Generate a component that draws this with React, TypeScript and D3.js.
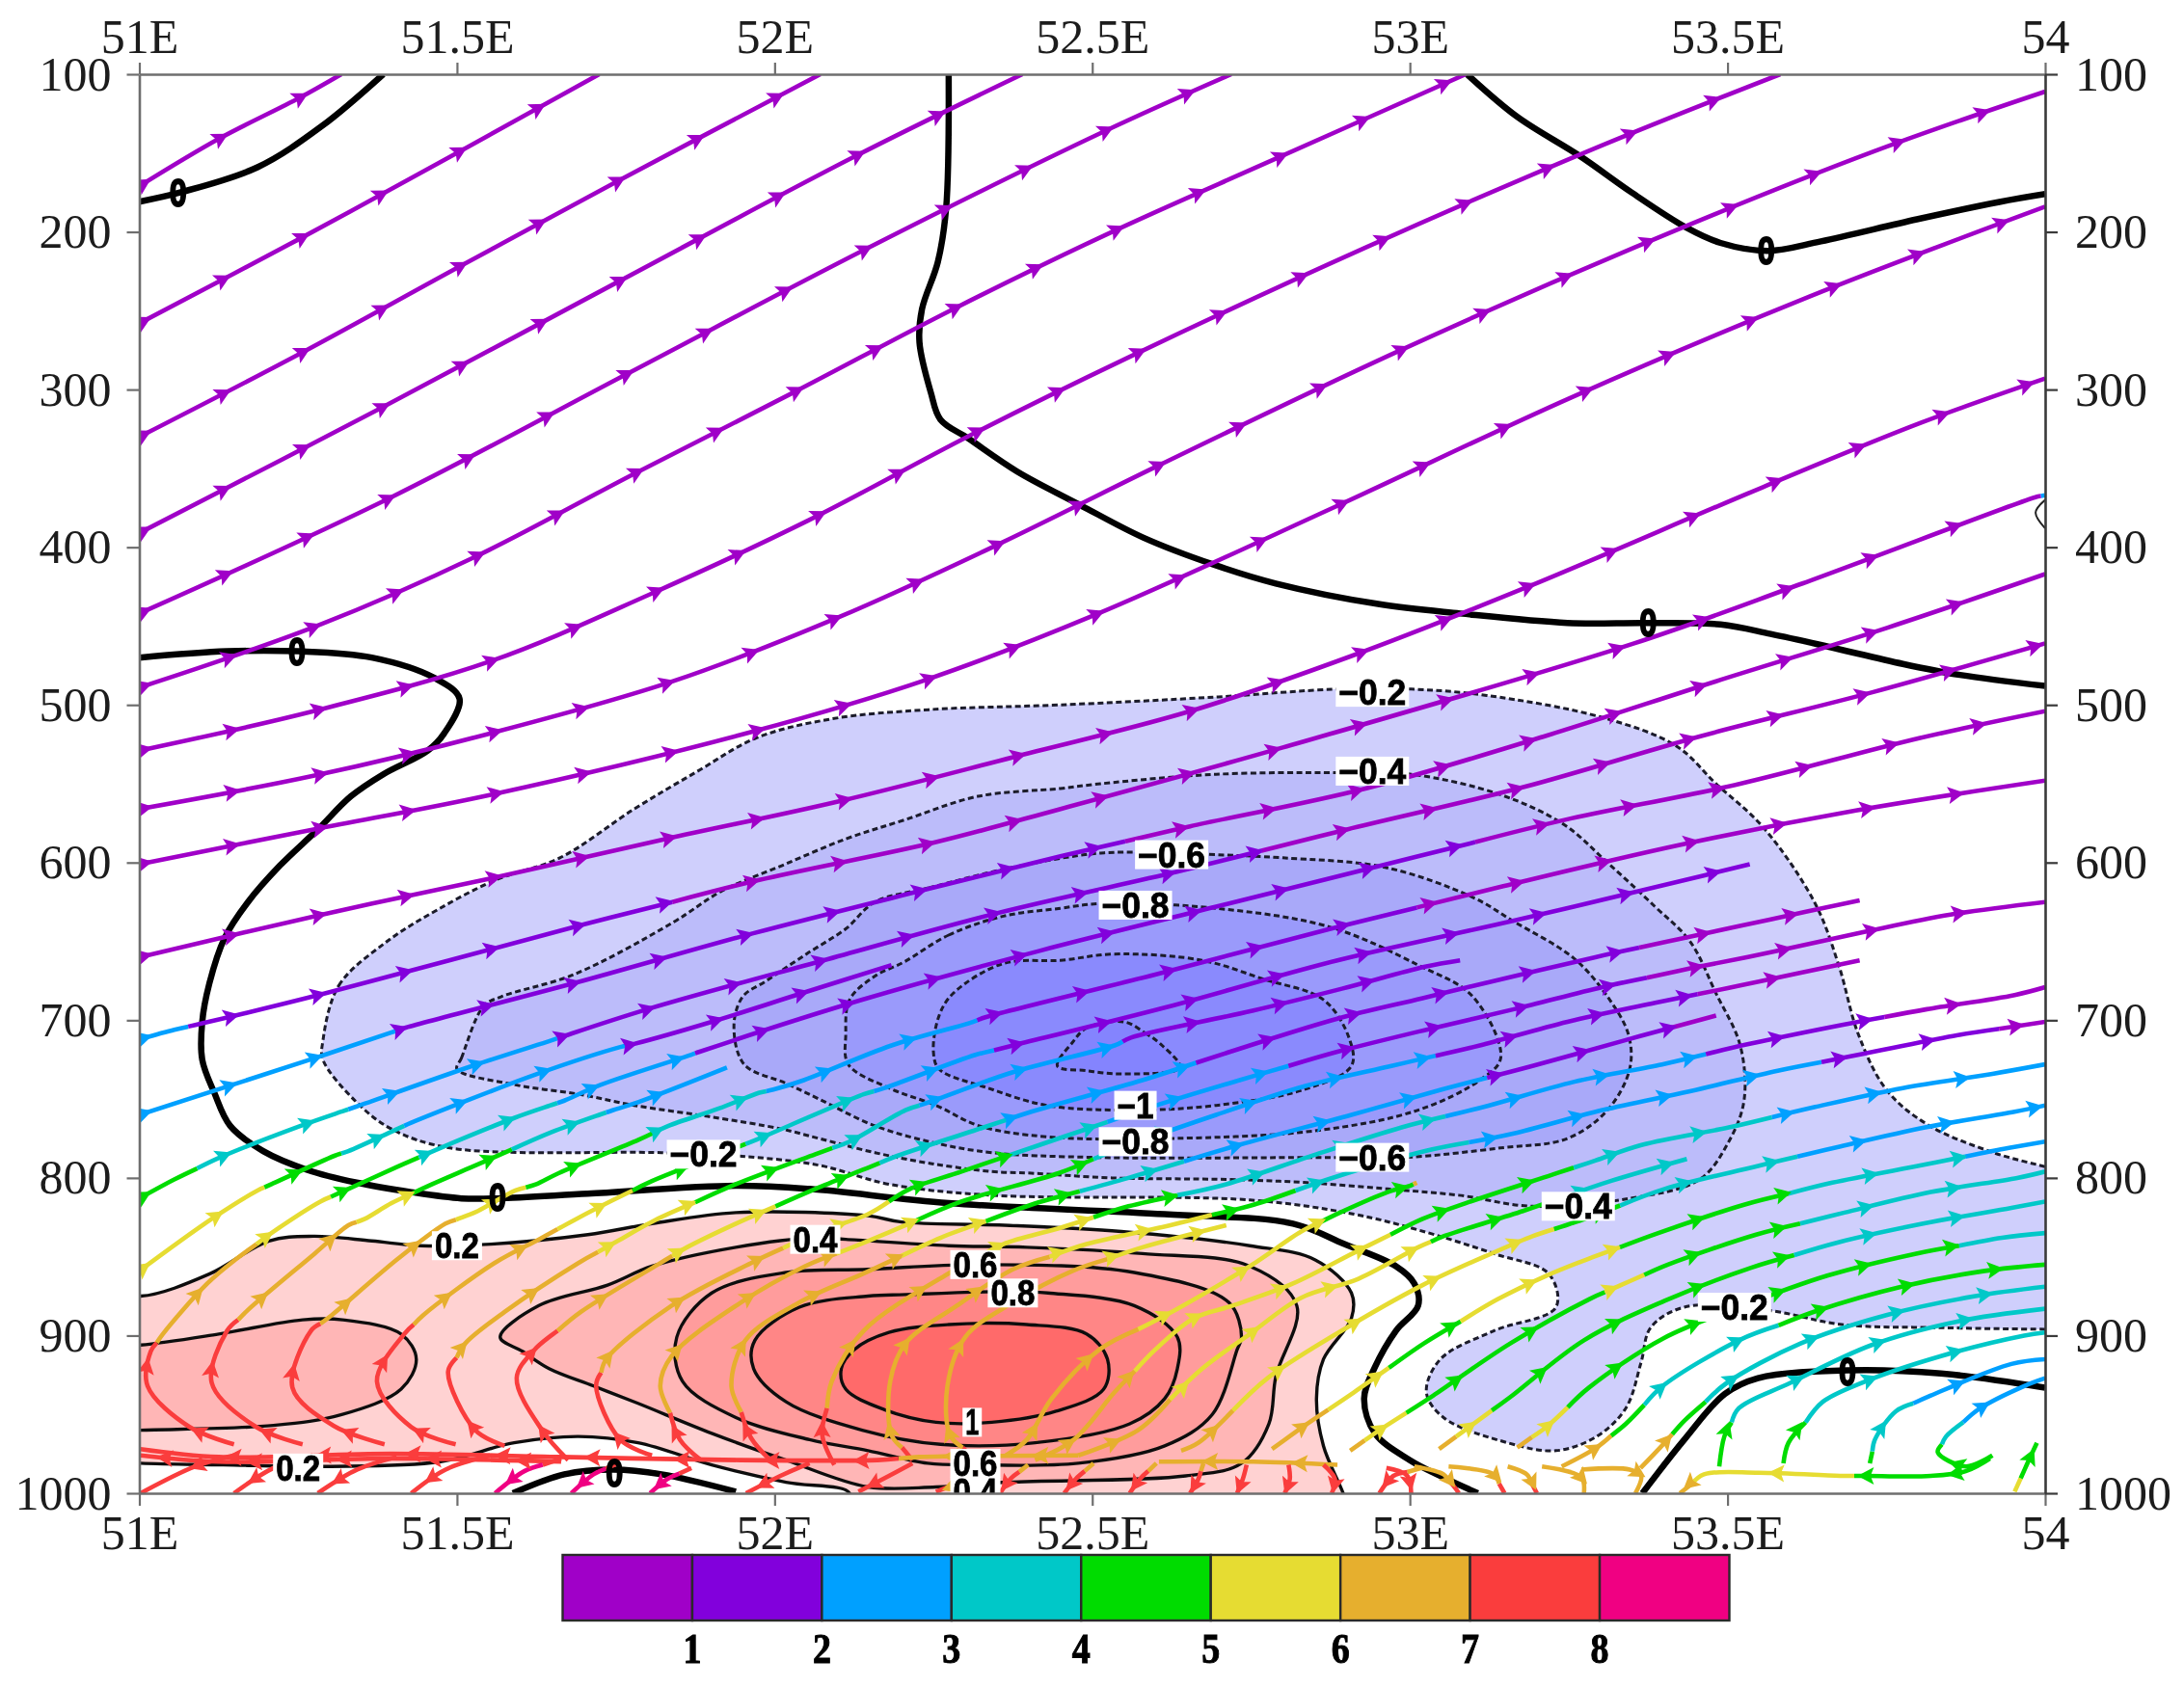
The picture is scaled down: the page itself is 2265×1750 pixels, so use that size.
import React, {useRef, useEffect} from 'react';
import * as d3 from 'd3';

const width = 2265;
const height = 1750;
const plot = {left: 144.5, right: 2121, top: 77, bottom: 1549};

const lonTicks = [51, 51.5, 52, 52.5, 53, 53.5, 54];
const lonLabels = ['51E', '51.5E', '52E', '52.5E', '53E', '53.5E', '54'];
const pressureTicks = [100, 200, 300, 400, 500, 600, 700, 800, 900, 1000];

// wind speed classes of the colour bar
const speedBreaks = [1, 2, 3, 4, 5, 6, 7, 8];
const speedColors = ['#a000c8', '#8200dc', '#00a0ff', '#00c8c8', '#00dc00', '#e6dc32', '#e6af2d', '#fa3c3c', '#f00082'];

// contours, [lon, hPa]
const neg02 = [[51.289,713],[51.314,678],[51.39,650],[51.469,630],[51.561,611],[51.662,597],[51.779,566],[51.879,542],[51.971,521],[52.088,509],[52.243,503],[52.45,500],[52.695,495],[52.886,490],[53.002,490],[53.121,494],[53.303,508],[53.419,526],[53.482,550],[53.557,578],[53.638,626],[53.675,665],[53.706,709],[53.75,744],[53.814,766],[53.919,784],[54.01,794],[54.05,799],[54.05,896],[54,896],[53.836,895],[53.68,893],[53.564,884],[53.432,882],[53.379,895],[53.364,917],[53.34,946],[53.294,964],[53.23,973],[53.154,968],[53.053,952],[53.026,936],[53.048,915],[53.132,897],[53.23,882],[53.219,861],[53.132,848],[53.013,833],[52.912,823],[52.748,814],[52.342,811],[52.18,804],[52.07,792],[51.939,786],[51.822,784],[51.489,781],[51.397,769],[51.342,752],[51.289,725]];
const neg04 = [[51.5,731],[51.507,724],[51.542,691],[51.57,685],[51.684,671],[51.84,638],[51.917,618],[52.011,602],[52.112,585],[52.204,573],[52.32,558],[52.45,553],[52.513,550],[52.695,544],[52.886,543],[53.002,544],[53.143,557],[53.243,576],[53.311,600],[53.386,628],[53.441,650],[53.482,683],[53.52,716],[53.526,751],[53.502,777],[53.456,801],[53.346,813],[53.193,818],[53.077,811],[52.965,807],[52.838,803],[52.715,801],[52.531,800],[52.404,797],[52.342,796],[52.248,791],[52.158,784],[52.07,775],[52.011,769],[51.895,761],[51.779,754],[51.693,747],[51.592,741]];
const neg06 = [[52.158,625],[52.243,616],[52.375,603],[52.513,594],[52.625,594],[52.695,595],[52.8,597],[52.961,603],[53.099,622],[53.162,637],[53.259,661],[53.311,685],[53.344,709],[53.346,731],[53.311,757],[53.248,775],[53.143,781],[52.993,787],[52.877,787],[52.504,787],[52.342,784],[52.254,778],[52.158,767],[52.07,750],[52.018,740],[51.952,728],[51.936,703],[51.95,685],[51.987,675],[52.05,658],[52.112,642]];
const neg08 = [[52.204,663],[52.274,646],[52.36,634],[52.45,629],[52.513,626],[52.695,629],[52.875,641],[53.013,665],[53.099,685],[53.143,724],[53.11,738],[53.013,757],[52.853,770],[52.621,775],[52.43,774],[52.322,767],[52.254,754],[52.18,743],[52.116,728],[52.112,709],[52.118,687],[52.158,672]];
const neg10 = [[52.45,662],[52.535,658],[52.673,662],[52.77,674],[52.864,687],[52.904,711],[52.908,729],[52.833,744],[52.695,754],[52.568,757],[52.428,754],[52.336,743],[52.259,731],[52.25,720],[52.259,697],[52.281,683],[52.36,664]];
const neg12 = [[52.55,701],[52.583,708],[52.61,716],[52.638,730],[52.544,734],[52.491,732],[52.445,729],[52.469,714],[52.491,705]];
const pos02 = [[50.934,870],[51.002,875],[51.11,861],[51.204,840],[51.274,837],[51.366,840],[51.443,843],[51.553,842],[51.706,836],[51.807,829],[51.939,822],[52.147,824],[52.2,828],[52.362,830],[52.546,834],[52.748,843],[52.851,852],[52.908,873],[52.908,889],[52.864,915],[52.853,940],[52.864,970],[52.895,1000],[52.908,1016],[52.096,1016],[52.118,1000],[52.018,993],[51.901,982],[51.785,968],[51.691,964],[51.59,968],[51.474,980],[51.296,983],[51.132,982],[51.002,981],[50.934,979]];
const pos04a = [[50.934,907],[51.002,906],[51.125,899],[51.257,890],[51.32,890],[51.412,899],[51.436,915],[51.412,934],[51.32,950],[51.211,957],[51.002,960],[50.934,961]];
const pos04b = [[51.568,901],[51.629,881],[51.737,868],[51.807,856],[51.939,844],[52.064,838],[52.112,839],[52.274,843],[52.397,844],[52.579,848],[52.748,856],[52.822,881],[52.789,926],[52.778,956],[52.735,981],[52.647,989],[52.368,993],[52.254,996],[52.147,996],[52.018,979],[51.901,962],[51.785,943],[51.715,932],[51.645,921],[51.603,910]];
const pos06 = [[51.846,901],[51.901,873],[52.018,860],[52.147,858],[52.316,855],[52.566,860],[52.715,879],[52.735,901],[52.728,909],[52.689,950],[52.614,970],[52.478,981],[52.316,982],[52.241,981],[52.147,973],[52.055,966],[51.939,952],[51.855,929]];
const pos08 = [[51.967,921],[51.969,903],[52.039,882],[52.147,875],[52.206,874],[52.375,872],[52.43,873],[52.566,881],[52.634,901],[52.634,921],[52.614,940],[52.559,956],[52.41,968],[52.261,969],[52.138,960],[52.018,942]];
const pos10 = [[52.105,921],[52.125,909],[52.18,898],[52.274,893],[52.397,893],[52.491,899],[52.524,915],[52.518,934],[52.443,948],[52.342,955],[52.254,955],[52.173,947],[52.112,934]];

const negativeLevels = [neg02, neg04, neg06, neg08, neg10, neg12];
const negativeFills = ['#cfcffc', '#bcbcfa', '#a9a9f9', '#9a9afb', '#8a8afd', '#8484fe'];
const positiveLevels = [pos02, pos04a, pos04b, pos06, pos08, pos10];
const positiveFills = ['#ffd2d2', '#ffb6b6', '#ffb6b6', '#ff9c9c', '#ff8686', '#ff6a6a'];

const zero1 = [[50.998,181],[51.064,175],[51.186,159],[51.287,133],[51.384,100]];
const zero2 = [[52.274,100],[52.27,185],[52.257,219],[52.232,249],[52.228,270],[52.246,302],[52.261,319],[52.305,331],[52.382,352],[52.48,373],[52.581,394],[52.691,411],[52.789,423],[52.95,436],[53.079,442],[53.248,448],[53.373,448],[53.489,449],[53.568,455],[53.658,463],[53.776,474],[53.866,481],[54,488]];
const zero3 = [[53.09,100],[53.169,127],[53.268,152],[53.349,175],[53.434,197],[53.489,207],[53.564,212],[53.647,206],[53.798,192],[53.928,181],[54,176]];
const zero4 = [[51,470],[51.138,466],[51.25,466],[51.366,470],[51.465,483],[51.504,496],[51.48,518],[51.454,529],[51.384,544],[51.333,558],[51.281,579],[51.221,602],[51.171,625],[51.134,648],[51.11,677],[51.099,701],[51.099,725],[51.118,746],[51.143,767],[51.195,783],[51.265,795],[51.342,803],[51.428,809],[51.507,813],[51.564,813],[51.706,810],[51.939,805],[52.055,807],[52.274,816],[52.614,823],[52.816,829],[52.897,842],[52.978,856],[53.007,867],[53.013,881],[52.978,897],[52.945,920],[52.928,940],[52.945,962],[53,979],[53.053,990],[53.107,1000]];
const zero5 = [[51.588,1000],[51.669,988],[51.746,985],[51.822,988],[51.939,999]];
const zero6 = [[53.366,1000],[53.432,966],[53.496,937],[53.548,927],[53.689,922],[53.836,924],[54,933]];
const zeroLines = [zero1, zero2, zero3, zero4, zero5, zero6];
const edgeArc = [[54,370],[53.985,378],[54,388]];

// label text, lon, hPa
const zeroLabels = [[51.061,175],[51.248,466],[53.375,448],[53.561,212],[51.564,812],[51.748,987],[53.689,923]];
const levelLabels = [
    ['−0.2',52.941,492],['−0.4',52.941,542],['−0.6',52.625,595],['−0.8',52.568,627],['−1',52.568,754],
    ['−0.8',52.568,777],['−0.6',52.941,787],['−0.4',53.265,818],['−0.2',51.888,785],['−0.2',53.511,882],
    ['0.2',51.5,843],['0.4',52.064,839],['0.6',52.316,855],['0.8',52.375,873],['1',52.311,955],
    ['0.6',52.316,981],['0.4',52.316,999],['0.2',51.25,984],
];

// streamlines in flow order, [lon, hPa, speed]; speed left out means 0.5
const upperFlow = [
    [[51,171],[51.125,141],[51.252,115],[51.318,100]],
    [[51,258],[51.254,204],[51.504,149],[51.724,100]],
    [[51,330],[51.254,277],[51.504,222],[51.752,168],[52.072,100]],
    [[51,391],[51.379,312],[51.752,232],[52.127,152],[52.39,100]],
    [[51,442],[51.393,369],[51.768,290],[52.143,211],[52.515,137],[52.719,100]],
    [[51,489],[51.279,450],[51.529,406],[51.776,354],[52.029,302],[52.281,249],[52.531,200],[52.781,155],[53.088,100]],
    [[51,529],[51.274,504],[51.555,472],[51.803,430],[52.053,383],[52.303,330],[52.555,280],[52.93,210],[53.303,145],[53.583,100]],
    [[51,566],[51.274,545],[51.553,518],[51.84,485],[52.103,444],[52.353,398],[52.605,348],[52.98,276],[53.353,210],[53.73,149],[54,111]],
    [[51,601],[51.274,579],[51.553,557],[51.965,517],[52.239,484],[52.504,443],[52.879,375],[53.254,305],[53.629,241],[54,184]],
    [[51,660],[51.276,634],[51.553,610],[51.829,585],[52.103,561],[52.377,533],[52.654,504],[52.908,469],[53.18,426],[53.555,362],[53.805,321],[54,293]],
    [[51,712,2.5],[51.055,706,2.5],[51.099,702,1.5],[51.292,683,1.5],[51.702,639,1.5],[51.976,611],[52.254,587],[52.45,566],[52.8,527],[53.353,461],[53.618,423],[53.987,368],[54,367,2.5]],
    [[51,760,2.5],[51.276,724,2.5],[51.395,708,2.5],[51.417,705,1.5],[51.689,676,1.5],[51.965,645,1.5],[52.239,617,1.5],[52.45,596,1.5],[52.654,577],[52.93,553],[53.211,520],[53.482,485],[53.752,451],[54,417]],
    [[51,813,4.5],[51.055,801,4.5],[51.127,787,3.5],[51.254,767,3.5],[51.318,758,3.5],[51.34,755,2.5],[51.524,729,2.5],[51.647,713,2.5],[51.669,710,1.5],[51.8,693,1.5],[52.077,662,1.5],[52.351,632,1.5],[52.632,606,1.5],[52.901,579],[53.18,552],[53.456,520],[53.728,492],[54,461]],
    [[51,859,5.5],[51.114,826,5.5],[51.186,808,5.5],[51.208,804,4.5],[51.307,786,4.5],[51.329,783,3.5],[51.406,769,3.5],[51.428,765,2.5],[51.627,734,2.5],[51.757,717,2.5],[51.779,715,1.5],[51.901,701,1.5],[52.042,683,1.5],[52.184,665,1.5]],
];

const risingFlow = [
    [[51.149,969,7.5],[51.079,958,7.5],[51.013,932,7.5],[51.018,910,7.5],[51.037,899,6.5],[51.107,867,6.5],[51.154,851,6.5],[51.215,833,5.5],[51.285,815,5.5],[51.318,809,4.5],[51.406,793,4.5],[51.474,781,3.5],[51.59,762,3.5],[51.647,754,3.5],[51.669,751,2.5],[51.726,741,2.5],[51.868,722,2.5],[51.882,720,1.5],[52.138,687,1.5],[52.417,656,1.5],[52.695,628,1.5],[52.963,601,1.5],[53.243,573],[53.52,550],[53.792,522],[54,504]],
    [[51.257,969,7.5],[51.184,958,7.5],[51.114,930,7.5],[51.138,897,7.5],[51.173,883,6.5],[51.276,848,6.5],[51.329,830,6.5],[51.355,826,5.5],[51.397,816,5.5],[51.461,804,4.5],[51.524,793,4.5],[51.649,771,3.5],[51.724,760,3.5],[51.746,757,2.5],[51.785,752,2.5],[51.925,730,2.5]],
    [[51.386,969,7.5],[51.305,957,7.5],[51.241,933,7.5],[51.27,897,7.5],[51.3,888,6.5],[51.408,851,6.5],[51.482,829,6.5],[51.515,824,5.5],[51.533,821,5.5],[51.592,808,5.5],[51.625,804,4.5],[51.66,797,4.5],[51.785,776,4.5],[51.833,767,3.5],[51.912,756,3.5],[51.976,746,3.5],[51.998,744,2.5],[52.046,738,2.5],[52.184,716,2.5],[52.305,702,2.5],[52.333,698,1.5],[52.599,671,1.5],[52.875,642,1.5],[53.147,615],[53.423,589],[53.702,567],[54,548]],
    [[51.498,969,7.5],[51.428,958,7.5],[51.374,929,7.5],[51.417,899,7.5],[51.447,887,6.5],[51.559,854,6.5],[51.629,839,6.5],[51.688,826,5.5],[51.746,814,5.5],[51.807,802,4.5],[51.939,781,4.5],[51.97,776,3.5],[52.14,747,3.5],[52.173,743,2.5],[52.316,722,2.5],[52.375,716,1.5],[52.614,692,1.5],[52.886,662,1.5],[53.162,637,1.5],[53.434,611,1.5],[53.535,601,1.5]],
    [[51.575,970,7.5],[51.529,960,7.5],[51.486,923,7.5],[51.513,905,6.5],[51.575,885,6.5],[51.691,854,6.5],[51.753,840,5.5],[51.811,827,5.5],[51.939,804,4.5],[52.064,785,4.5],[52.118,777,3.5],[52.206,757,3.5],[52.25,751,2.5],[52.375,733,2.5],[52.535,716,2.5],[52.561,711,1.5],[52.752,694,1.5],[52.893,680,1.5],[53.024,666,1.5],[53.079,662,1.5]],
    [[51.675,979,7.5],[51.634,960,7.5],[51.594,927,7.5],[51.622,909,7.5],[51.695,885,6.5],[51.816,855,6.5],[51.862,844,5.5],[51.939,829,5.5],[52.064,807,4.5],[52.138,795,4.5],[52.193,786,3.5],[52.329,768,3.5],[52.404,758,2.5],[52.579,738,2.5],[52.748,716,1.5],[52.886,699,1.5],[53.02,686,1.5],[53.154,673,1.5],[53.292,660,1.5],[53.43,648],[53.568,636],[53.708,624]],
    [[51.807,976,7.5],[51.757,966,7.5],[51.719,932,7.5],[51.735,915,6.5],[51.838,881,6.5],[51.963,854,6.5],[52.064,835,5.5],[52.147,823,5.5],[52.213,807,4.5],[52.294,796,4.5],[52.447,775,3.5],[52.601,754,2.5],[52.732,738,2.5],[52.886,720,1.5],[53.026,706,1.5],[53.164,693,1.5],[53.303,679,1.5],[53.443,667],[53.579,656],[53.715,644],[53.851,633],[54,625]],
    [[51.884,979,7.5],[51.851,966,7.5],[51.82,932,6.5],[51.838,913,6.5],[51.947,879,6.5],[52.048,856,6.5],[52.147,840,5.5],[52.294,815,4.5],[52.447,797,4.5],[52.557,779,3.5],[52.695,760,2.5],[52.833,742,2.5],[52.971,729,2.5],[53.11,716,1.5],[53.248,701,1.5],[53.386,689,1.5],[53.52,678],[53.708,662]],
    [[51.993,979,7.5],[51.963,965,7.5],[51.932,932,6.5],[51.954,903,6.5],[52.039,879,6.5],[52.138,861,6.5],[52.261,838,5.5],[52.404,817,4.5],[52.557,800,3.5],[52.732,779,2.5],[52.908,760,2.5],[53.05,744,2.5],[53.193,729,1.5],[53.336,713,1.5],[53.482,697]],
    [[52.094,982,7.5],[52.075,963,7.5],[52.09,929,6.5],[52.14,897,6.5],[52.272,861,6.5],[52.36,842,5.5],[52.447,832,5.5],[52.557,818,4.5],[52.711,804,3.5],[52.853,785,3.5],[52.987,768,3.5],[53.125,754,2.5],[53.259,739,2.5],[53.397,728,2.5],[53.535,715,1.5],[53.68,703,1.5],[53.814,693],[53.952,684],[54,679]],
    [[52.217,979,7.5],[52.184,963,6.5],[52.182,929,6.5],[52.206,905,6.5],[52.287,881,6.5],[52.375,858,6.5],[52.491,842,5.5],[52.623,830,5.5],[52.754,817,4.5],[52.886,799,3.5],[53.024,783,3.5],[53.162,772,2.5],[53.303,757,2.5],[53.441,745,2.5],[53.579,732,2.5],[53.717,721,1.5],[53.855,710,1.5],[54,701]],
    [[52.316,979,7.5],[52.276,963,6.5],[52.272,932,6.5],[52.3,901,6.5],[52.375,879,6.5],[52.469,859,6.5],[52.579,844,5.5],[52.711,830,5.5]],
    [[52.364,976,6.5],[52.397,966,6.5],[52.436,940,6.5],[52.511,909,6.5],[52.634,883,5.5],[52.748,856,5.5],[52.829,834,5.5],[52.89,822,4.5],[52.965,809,4.5],[53,805,4.5],[53.011,803,6.5]],
    [[52.41,979,6.5],[52.471,966,6.5],[52.535,936,6.5],[52.599,909,5.5],[52.66,889,5.5],[52.721,881,5.5],[52.816,867,5.5],[52.919,846,5.5],[53.02,826,4.5],[53.088,816,4.5],[53.224,798,4.5],[53.292,789,3.5],[53.366,779,3.5],[53.502,768,3.5],[53.638,755,2.5],[53.776,743,2.5],[53.917,734,2.5],[54,728,2.5]],
    [[52.478,976,6.5],[52.572,960,6.5],[52.673,921,5.5],[52.748,899,5.5],[52.829,876,5.5],[52.919,864,5.5],[53.013,844,5.5],[53.053,837,4.5],[53.178,821,4.5],[53.316,802,3.5],[53.436,788,3.5]],
    [[52.64,973,6.5],[52.667,968,6.5],[52.776,927,5.5],[52.884,899,5.5],[53.02,868,5.5],[53.134,847,5.5],[53.193,837,5.5],[53.261,828,4.5],[53.401,807,3.5],[53.542,793,3.5],[53.678,780,2.5],[53.811,768,2.5],[53.952,758,2.5],[54,754,2.5]],
];

const easternFlow = [
    [[52.783,972,6.5],[52.831,958,6.5],[52.912,936,5.5],[53.022,905,4.5],[53.138,877,5.5],[53.215,862,5.5],[53.27,853,5.5],[53.391,835,4.5],[53.526,817,4.5],[53.665,803,3.5],[53.805,792,3.5],[53.943,781,2.5],[54,777,2.5]],
    [[52.906,973,6.5],[52.952,960,5.5],[53.037,938,4.5],[53.158,905,4.5],[53.282,877,4.5],[53.332,868,5.5],[53.406,855,4.5],[53.545,836,4.5],[53.684,822,3.5],[53.82,809,3.5],[53.956,800,3.5],[54,796,3.5]],
    [[53.046,972,6.5],[53.1,956,5.5],[53.158,939,4.5],[53.274,903,4.5],[53.401,878,4.5],[53.537,857,4.5],[53.673,841,3.5],[53.808,829,3.5],[53.947,819,3.5],[54,815,3.5]],
    [[53.169,971,6.5],[53.215,958,5.5],[53.282,933,4.5],[53.398,902,4.5],[53.518,882,4.5],[53.657,862,4.5],[53.797,848,4.5],[53.932,838,3.5],[54,835,3.5]],
    [[53.239,983,6.5],[53.294,971,6.5],[53.34,956,4.5],[53.398,932,3.5],[53.518,903,3.5],[53.643,884,4.5],[53.774,869,4.5],[53.905,859,4.5],[54,855,4.5]],
    [[53.363,984,6.5],[53.394,971,6.5],[53.432,954,4.5],[53.499,930,3.5],[53.615,905,3.5],[53.75,887,3.5],[53.89,875,3.5],[54,869,3.5]],
    [[53.487,983,4.5],[53.495,964,4.5],[53.518,946,3.5],[53.599,930,3.5],[53.727,906,3.5],[53.863,891,3.5],[54,883,3.5]],
    [[53.588,981,4.5],[53.596,968,4.5],[53.65,942,3.5],[53.711,930,3.5],[53.836,913,3.5],[53.967,900,3.5],[54,898,3.5]],
    [[53.724,981,4.5],[53.732,966,3.5],[53.765,948,3.5],[53.82,938,2.5],[53.947,918,2.5],[54,915,2.5]],
    [[53.917,976,4.5],[53.875,983,4.5],[53.831,974,4.5],[53.844,964,3.5],[53.898,946,2.5],[53.967,932,2.5],[54,927,2.5]],
    [[53.913,978,4.5],[53.875,986,4.5],[53.82,989,4.5],[53.719,989,4.5],[53.68,989,5.5],[53.549,987,5.5],[53.463,988,5.5],[53.425,1000,6.5]],
    [[53.952,999,5.5],[53.971,982,4.5],[53.987,968,4.5]],
];

const lowLevelBands = [
    [[52.478,976,6.5],[52.228,977,6.5],[52.162,979,7.5],[51.947,979,7.5],[51.664,977,7.5],[51.397,975,7.5],[51.125,977,7.5],[51.002,972,7.5]],
    [[51.664,980,7.5],[51.397,978,7.5],[51.125,980,7.5],[51.002,976,7.5]],
    [[52.886,982,6.5],[52.754,980,6.5],[52.605,980,6.5]],
    [[53.018,984,6.5],[52.974,989,7.5],[52.952,1000,7.5]],
    [[52.963,984,7.5],[52.996,989,7.5],[53.002,1000,7.5]],
    [[53.007,983,6.5],[53.053,988,6.5],[53.072,997,7.5],[53.077,1000,7.5]],
    [[53.061,983,6.5],[53.132,988,6.5],[53.149,1000,7.5]],
    [[53.154,983,6.5],[53.184,988,6.5],[53.2,1000,7.5]],
    [[53.208,983,6.5],[53.27,990,6.5],[53.274,1000,6.5]],
    [[53.27,985,6.5],[53.346,985,6.5],[53.364,989,6.5],[53.355,1000,6.5]],
    [[52.399,982,6.5],[52.371,991,7.5],[52.355,1000,7.5]],
    [[52.502,981,6.5],[52.474,991,7.5],[52.456,1000,7.5]],
    [[52.601,981,6.5],[52.575,991,7.5],[52.559,1000,7.5]],
    [[52.675,981,6.5],[52.667,991,7.5],[52.654,1000,7.5]],
    [[52.743,982,7.5],[52.737,991,7.5],[52.728,1000,7.5]],
    [[52.809,982,7.5],[52.811,991,7.5],[52.803,1000,7.5]],
    [[52.864,982,7.5],[52.882,991,7.5],[52.877,1000,7.5]],
    [[51.149,976,7.5],[51.088,983,7.5],[51.002,1000,7.5]],
    [[51.273,976,7.5],[51.211,984,7.5],[51.149,1000,7.5]],
    [[51.405,977,7.5],[51.343,985,7.5],[51.281,1000,7.5]],
    [[51.552,976,7.5],[51.482,985,7.5],[51.428,1000,7.5]],
    [[51.664,978,7.5],[51.606,986,8.5],[51.56,1000,8.5]],
    [[51.753,981,7.5],[51.715,988,8.5],[51.68,1000,8.5]],
    [[51.869,984,7.5],[51.831,991,8.5],[51.804,1000,8.5]],
    [[52.055,981,7.5],[52.009,989,7.5],[51.955,1000,7.5]],
    [[52.217,981,7.5],[52.18,989,7.5],[52.132,999,7.5]],
    [[52.322,982,6.5],[52.294,993,6.5],[52.254,999,7.5]],
];

const allFlow = [...upperFlow, ...risingFlow, ...easternFlow, ...lowLevelBands];

const labelWidth = (text) => (text.startsWith('−') ? 24 : 0) + (text.includes('.') ? 46 : 14);

const App = () => {
    const svgRef = useRef(null);

    useEffect(() => {
        const svg = d3.select(svgRef.current);
        svg.selectAll('*').remove();

        const x = d3.scaleLinear().domain([51, 54]).range([plot.left, plot.right]);
        const y = d3.scaleLinear().domain([100, 1000]).range([plot.top, plot.bottom]);
        const speedColor = d3.scaleThreshold().domain(speedBreaks).range(speedColors);

        const defs = svg.append('defs');
        defs.append('clipPath').attr('id', 'plot-area').append('rect')
            .attr('x', plot.left).attr('y', plot.top)
            .attr('width', plot.right - plot.left).attr('height', plot.bottom - plot.top);
        defs.append('filter').attr('id', 'soft')
            .attr('filterUnits', 'userSpaceOnUse')
            .attr('x', 0).attr('y', 0).attr('width', width).attr('height', height)
            .append('feGaussianBlur').attr('stdDeviation', 0.5);

        const root = svg.append('g').attr('filter', 'url(#soft)');
        root.append('rect').attr('width', width).attr('height', height).attr('fill', '#fff');

        const chart = root.append('g').attr('clip-path', 'url(#plot-area)');

        const closed = d3.line().x(d => x(d[0])).y(d => y(d[1])).curve(d3.curveCatmullRomClosed.alpha(0.5));
        const open = d3.line().x(d => x(d[0])).y(d => y(d[1])).curve(d3.curveCatmullRom.alpha(0.5));

        // shaded contours, outer level first
        positiveLevels.forEach((pts, i) => {
            chart.append('path').attr('d', closed(pts))
                .attr('fill', positiveFills[i]).attr('stroke', '#111').attr('stroke-width', 3.4);
        });
        negativeLevels.forEach((pts, i) => {
            chart.append('path').attr('d', closed(pts))
                .attr('fill', negativeFills[i]).attr('stroke', '#1a1a2a')
                .attr('stroke-width', 3).attr('stroke-dasharray', '6 3.5');
        });

        // zero lines
        zeroLines.forEach(pts => {
            chart.append('path').attr('d', open(pts))
                .attr('fill', 'none').attr('stroke', '#000').attr('stroke-width', 6.5);
        });
        chart.append('path').attr('d', open(edgeArc))
            .attr('fill', 'none').attr('stroke', '#222').attr('stroke-width', 2);

        // streamlines: one path per colour run, the colour changes halfway between two points
        const flow = chart.append('g').attr('fill', 'none').attr('stroke-linecap', 'butt');
        const arrows = chart.append('g');
        const speedOf = d => d[2] === undefined ? 0.5 : d[2];

        allFlow.forEach(pts => {
            let run = [pts[0]];
            for (let i = 1; i < pts.length; i++) {
                if (speedColor(speedOf(pts[i])) === speedColor(speedOf(pts[i - 1]))) {
                    run.push(pts[i]);
                } else {
                    const mid = [(pts[i - 1][0] + pts[i][0]) / 2, (pts[i - 1][1] + pts[i][1]) / 2];
                    run.push(mid);
                    flow.append('path').attr('d', open(run))
                        .attr('stroke', speedColor(speedOf(pts[i - 1]))).attr('stroke-width', 4.6);
                    run = [mid, pts[i]];
                }
            }
            flow.append('path').attr('d', open(run))
                .attr('stroke', speedColor(speedOf(pts[pts.length - 1]))).attr('stroke-width', 4.6);

            // arrow heads along the whole line
            const probe = flow.append('path').attr('d', open(pts)).attr('stroke', 'none');
            const node = probe.node();
            const total = node.getTotalLength();
            const spacing = 93;
            let s = pts[0][0] === 51 ? 4 : 38;
            if (total < spacing) s = total * 0.7;
            for (; s < total - 8; s += spacing) {
                const a = node.getPointAtLength(s);
                const b = node.getPointAtLength(s + 2);
                const angle = Math.atan2(b.y - a.y, b.x - a.x) * 180 / Math.PI;
                const nearest = d3.least(pts, d => (x(d[0]) - a.x) ** 2 + (y(d[1]) - a.y) ** 2);
                arrows.append('path')
                    .attr('d', 'M10,0 L-7,-9 L-3.5,0 L-7,9 Z')
                    .attr('transform', `translate(${a.x},${a.y}) rotate(${angle})`)
                    .attr('fill', speedColor(speedOf(nearest)));
            }
            probe.remove();
        });

        // contour labels
        const labels = chart.append('g')
            .attr('font-family', '"Liberation Sans Narrow", "Liberation Sans", sans-serif')
            .attr('font-weight', 'bold').attr('fill', '#000').attr('text-anchor', 'middle');

        levelLabels.forEach(([text, lon, p]) => {
            const w = labelWidth(text);
            labels.append('rect')
                .attr('x', x(lon) - w / 2 - 3).attr('y', y(p) - 15)
                .attr('width', w + 6).attr('height', 30).attr('fill', '#fff');
            labels.append('text')
                .attr('x', x(lon)).attr('y', y(p) + 13)
                .attr('font-size', 37)
                .attr('stroke', '#000').attr('stroke-width', 0.8)
                .attr('textLength', w).attr('lengthAdjust', 'spacingAndGlyphs')
                .text(text);
        });
        zeroLabels.forEach(([lon, p]) => {
            labels.append('text')
                .attr('x', x(lon)).attr('y', y(p) + 14)
                .attr('font-size', 40)
                .attr('stroke', '#000').attr('stroke-width', 1.8)
                .attr('textLength', 18).attr('lengthAdjust', 'spacingAndGlyphs')
                .text('0');
        });

        // axes
        const axisStyle = (g, color) => {
            g.attr('font-family', '"Liberation Serif", serif').attr('font-size', 50);
            g.selectAll('path').attr('stroke', color).attr('stroke-width', 2.6);
            g.selectAll('line').attr('stroke', color).attr('stroke-width', 2.2);
            g.selectAll('text').attr('fill', '#1c1c1c');
        };
        const lonFormat = v => lonLabels[lonTicks.indexOf(v)];

        root.append('g').attr('transform', `translate(0,${plot.top})`)
            .call(d3.axisTop(x).tickValues(lonTicks).tickFormat(lonFormat).tickSize(12).tickSizeOuter(0).tickPadding(10))
            .call(axisStyle, '#6e6e6e');
        root.append('g').attr('transform', `translate(0,${plot.bottom})`)
            .call(d3.axisBottom(x).tickValues(lonTicks).tickFormat(lonFormat).tickSize(13).tickSizeOuter(0).tickPadding(9))
            .call(axisStyle, '#6e6e6e');
        root.append('g').attr('transform', `translate(${plot.left},0)`)
            .call(d3.axisLeft(y).tickValues(pressureTicks).tickFormat(d3.format('d')).tickSize(13).tickSizeOuter(0).tickPadding(16))
            .call(axisStyle, '#6e6e6e');
        root.append('g').attr('transform', `translate(${plot.right},0)`)
            .call(d3.axisRight(y).tickValues(pressureTicks).tickFormat(d3.format('d')).tickSize(13).tickSizeOuter(0).tickPadding(18))
            .call(axisStyle, '#3a3a3a');

        // colour bar
        const bar = {left: 583.5, right: 1793.5, top: 1613, bottom: 1681};
        const barX = d3.scaleLinear().domain([0, speedColors.length]).range([bar.left, bar.right]);
        root.append('g').selectAll('rect').data(speedColors).join('rect')
            .attr('x', (d, i) => barX(i)).attr('y', bar.top)
            .attr('width', (d, i) => barX(i + 1) - barX(i)).attr('height', bar.bottom - bar.top)
            .attr('fill', d => d).attr('stroke', '#2a2a2a').attr('stroke-width', 2.4);
        root.append('g').selectAll('text').data(speedBreaks).join('text')
            .attr('x', (d, i) => barX(i + 1)).attr('y', 1725)
            .attr('text-anchor', 'middle')
            .attr('font-family', '"Liberation Serif", serif').attr('font-weight', 'bold').attr('font-size', 45)
            .attr('textLength', 19).attr('lengthAdjust', 'spacingAndGlyphs')
            .attr('fill', '#000').attr('stroke', '#000').attr('stroke-width', 1)
            .text(d => d);
    }, []);

    return (
        <svg ref={svgRef} width={width} height={height}
             style={{position: 'absolute', left: 0, top: 0, background: '#fff'}}/>
    );
};

export default App;
